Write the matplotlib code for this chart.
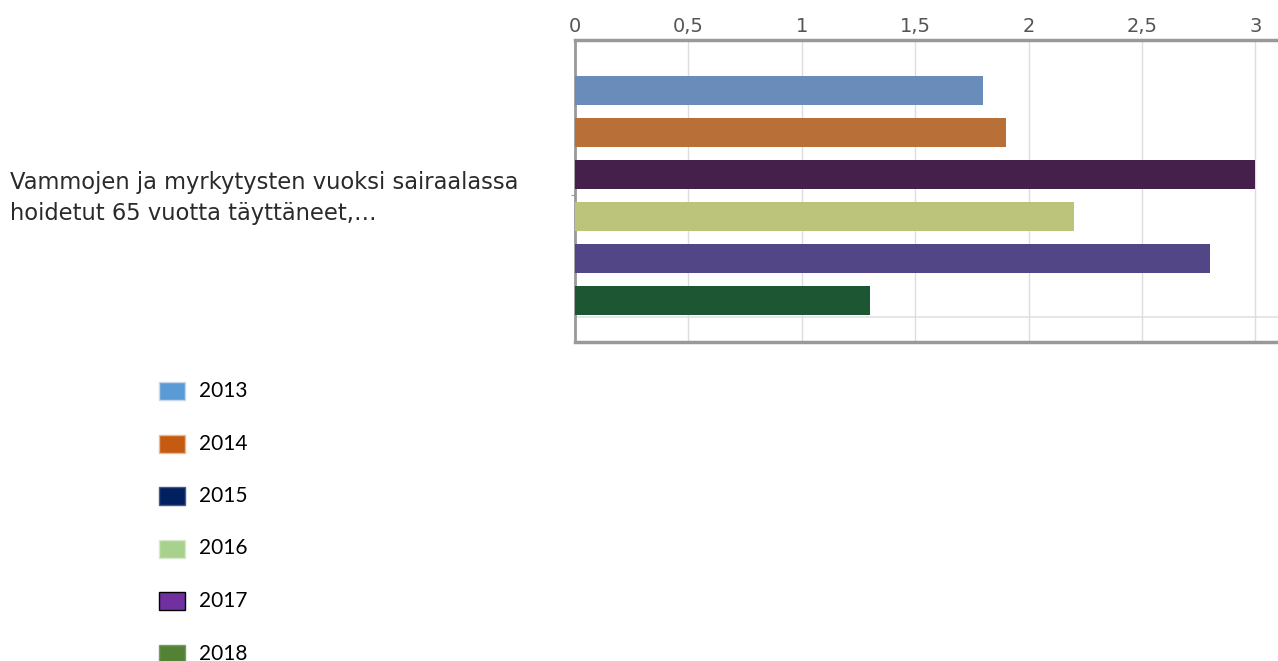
import matplotlib.pyplot as plt
from matplotlib.patches import Rectangle
import numpy as np

# data
category = 'Vammojen ja myrkytysten vuoksi sairaalassa\nhoidetut 65 vuotta täyttäneet,…'
years = ['2013', '2014', '2015', '2016', '2017', '2018']
values = [1.8, 1.9, 3.0, 2.2, 2.8, 1.3]
x_ticks = [0, 0.5, 1, 1.5, 2, 2.5, 3]
x_tick_labels = ['0', '0,5', '1', '1,5', '2', '2,5', '3']

# bars and legend use different palettes (as in the source picture)
bar_colors = ['#6a8cba', '#b86f38', '#45204a', '#bcc47b', '#524686', '#1c5632']
legend_colors = ['#5b9bd5', '#c55a11', '#002060', '#a9d18e', '#7030a0', '#548235']
legend_edges = ['#c8d8ea', '#e6b99a', '#4a5b80', '#d7e8cc', '#000000', '#7a9a63']

W, H = 1278, 661
fig = plt.figure(figsize=(W / 100, H / 100), dpi=100)
ax = fig.add_axes([575 / W, 1 - 342 / H, 1 - 575 / W, (342 - 40) / H])

n = len(values)
offsets = np.arange(n) - (n - 1) / 2
ax.barh(offsets, values, height=0.69, color=bar_colors, edgecolor='none', zorder=3)

ax.set_xlim(0, 3.1)
ax.set_ylim(3.49, -3.70)
ax.xaxis.tick_top()
ax.set_xticks(x_ticks)
ax.set_xticklabels(x_tick_labels, fontsize=14, color='#555555', family='DejaVu Sans')
ax.tick_params(axis='x', length=0, pad=3)
ax.set_yticks([0])
ax.set_yticklabels([''])
ax.tick_params(axis='y', length=3, color='#999999')
ax.grid(axis='x', color='#dddddd', linewidth=1, zorder=0)
ax.axhline(2.9, color='#e2e2e2', linewidth=1.2, zorder=1)

for side in ['top', 'left', 'bottom']:
    ax.spines[side].set_color('#999999')
ax.spines['top'].set_linewidth(2.5)
ax.spines['left'].set_linewidth(2)
ax.spines['bottom'].set_linewidth(2.5)
ax.spines['right'].set_visible(False)

fig.text(10 / W, 1 - 198 / H, category, ha='left', va='center', fontsize=16.3,
         color='#2a2a2a', family='DejaVu Sans', linespacing=1.4)

# legend drawn in figure pixels
for i, (yr, c, ec) in enumerate(zip(years, legend_colors, legend_edges)):
    yc = 391 + i * 52.5
    fig.patches.append(Rectangle((159 / W, 1 - (yc + 9) / H), 26 / W, 18 / H,
                                 transform=fig.transFigure, facecolor=c,
                                 edgecolor=ec, linewidth=1))
    fig.text(199 / W, 1 - yc / H, yr, ha='left', va='center', fontsize=15,
             family='Lato', color='#000000')

fig.savefig('out.png', dpi=100)
